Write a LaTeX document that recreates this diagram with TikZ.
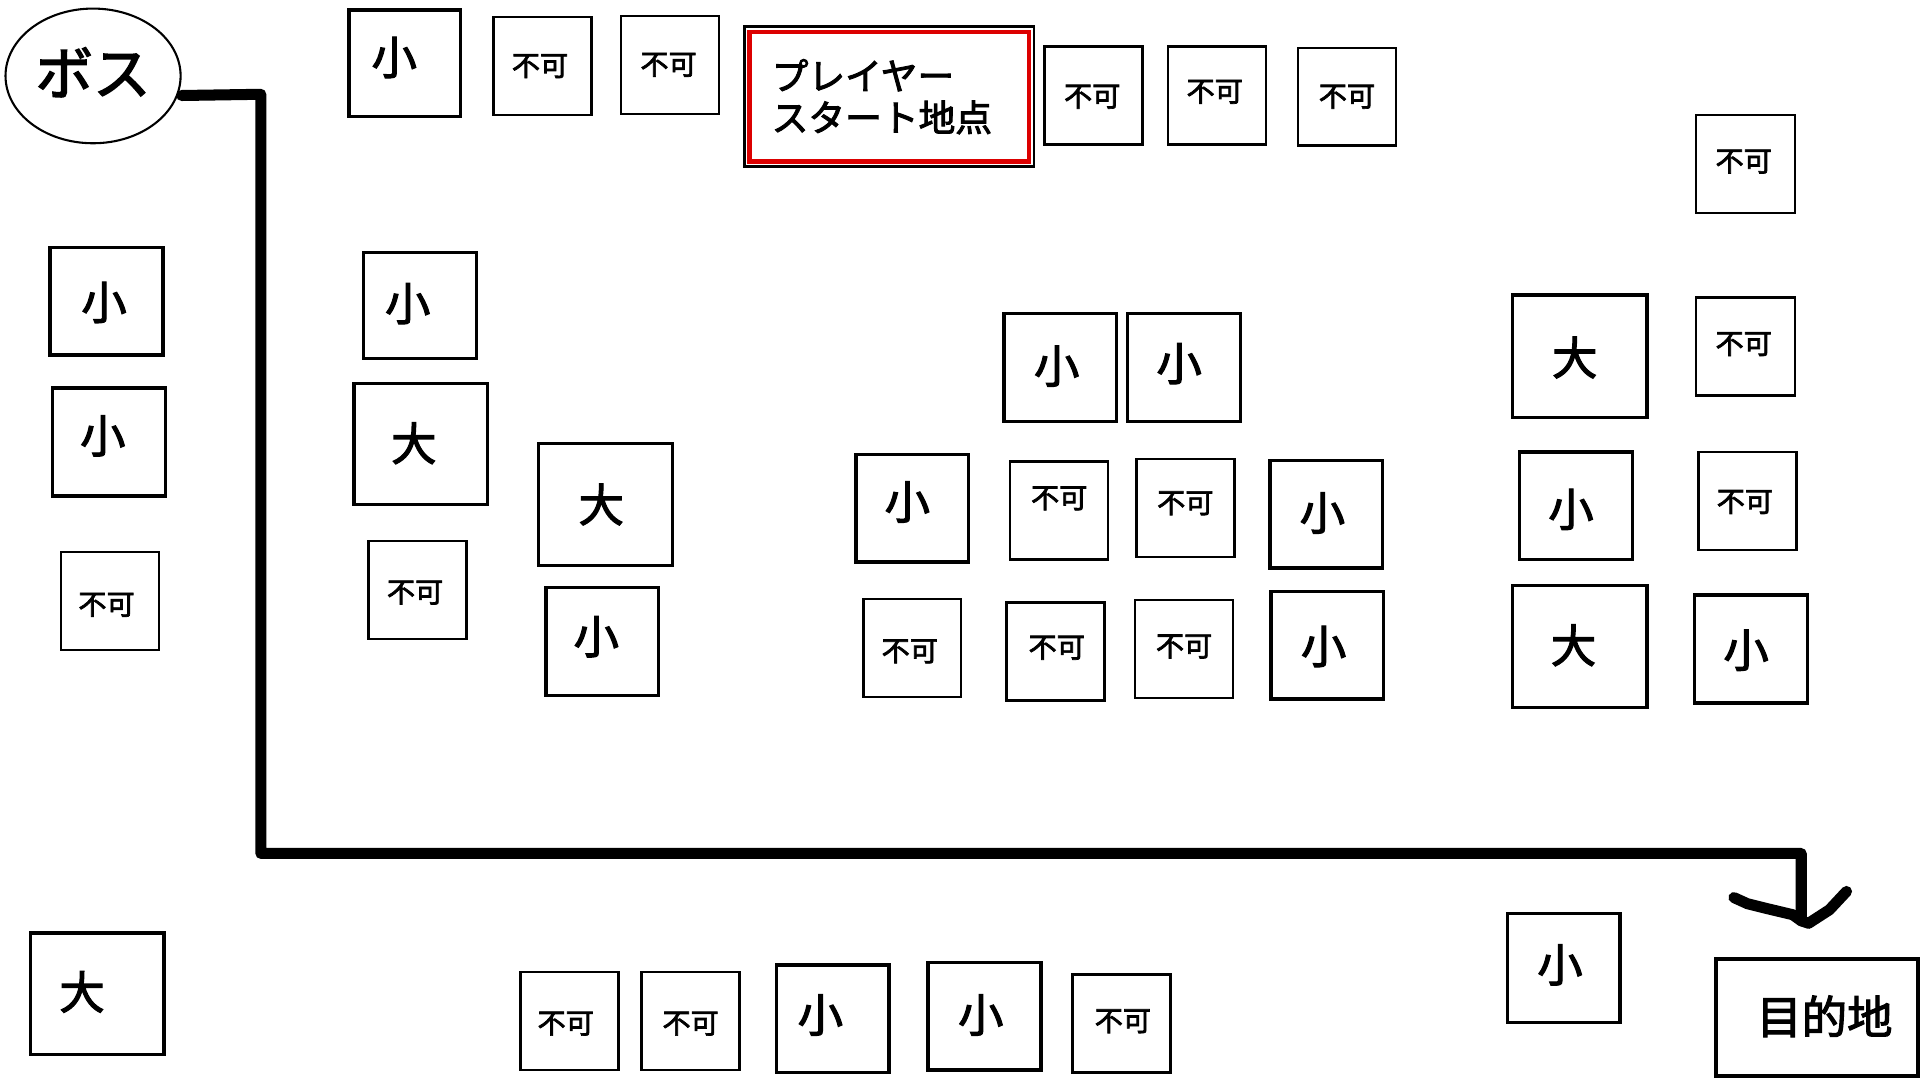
\documentclass[tikz,border=0pt]{standalone}
\usepackage{fontspec}
\newfontfamily\jp{Noto Sans CJK JP}[FakeBold=2.5]
\usetikzlibrary{shapes.geometric}
\definecolor{startred}{RGB}{220,0,0}
\tikzset{
  boxbase/.style={draw=black, rectangle, inner sep=0pt, fill=white},
  sbox/.style={boxbase, line width=2.8pt},
  lbox/.style={boxbase, line width=2.8pt},
  nbox/.style={boxbase, line width=2.0pt},
  gbox/.style={boxbase, line width=3.3pt},
  txtsbox/.style={font=\jp\fontsize{37}{40}\selectfont, inner sep=0pt},
  txtlbox/.style={font=\jp\fontsize{37}{40}\selectfont, inner sep=0pt},
  txtnbox/.style={font=\jp\fontsize{23}{26}\selectfont, inner sep=0pt},
  txtgbox/.style={font=\jp\fontsize{37}{40}\selectfont, inner sep=0pt},
  route/.style={line width=9pt, line cap=round, line join=round, black},
}
\newcommand\bx[9]{%
  \node[#1, minimum width={(#5-#3)*1pt}, minimum height={(#6-#4)*1pt}] (#2) at ({(#3+#5)/2},{(#4+#6)/2}) {};
  \node[txt#1] (#2t) at (#7,#8) {#9};}
\begin{document}
\begin{tikzpicture}[x=1pt,y=-1pt]
\useasboundingbox (0,0) rectangle (1568,882);
\fill[white] (0,0) rectangle (1568,882);

% boss
\node[draw, ellipse, line width=1.7pt, minimum width=143pt, minimum height=110pt, inner sep=0pt] (boss) at (76,62) {};
\node[font=\jp\fontsize{47}{50}\selectfont, inner sep=0pt] (bosst) at (76,59) {ボス};

% start
\node[draw=startred, line width=3.4pt, rectangle, inner sep=0pt, minimum width=228pt, minimum height=106pt] (start) at (726.1,78.85) {};
\draw[black, line width=2.4pt] ([shift={(-2.6pt,2.6pt)}]start.north west) rectangle ([shift={(2.6pt,-2.6pt)}]start.south east);
\node[font=\jp\fontsize{30}{34}\selectfont, align=left, inner sep=0pt, anchor=west] (startt) at (630,79) {プレイヤー\\スタート地点};

% top row
\bx{sbox}{t1}{285}{8}{376}{95}{322}{47}{小}
\bx{nbox}{t2}{403}{14}{483}{94}{441}{54}{不可}
\bx{nbox}{t3}{507}{13}{587}{93}{546}{53}{不可}
\bx{nbox}{t4}{853}{38}{933}{118}{892}{79}{不可}
\bx{nbox}{t5}{954}{38}{1034}{118}{992}{75}{不可}
\bx{nbox}{t6}{1060}{39}{1140}{119}{1100}{79}{不可}
\bx{nbox}{t7}{1385}{94}{1466}{174}{1424}{132}{不可}

% left column
\bx{sbox}{l1}{41}{202}{133}{290}{85}{247}{小}
\bx{sbox}{l2}{43}{317}{135}{405}{84}{356}{小}
\bx{nbox}{l3}{50}{451}{130}{531}{87}{494}{不可}
\bx{lbox}{l4}{25}{762}{134}{861}{67}{810}{大}

% second column
\bx{sbox}{c1}{297}{206}{389}{293}{333}{248}{小}
\bx{lbox}{c2}{289}{313}{398}{412}{338}{362}{大}
\bx{nbox}{c3}{301}{442}{381}{522}{339}{484}{不可}
\bx{lbox}{c4}{440}{362}{549}{462}{491}{412}{大}
\bx{sbox}{c5}{446}{480}{538}{568}{487}{520}{小}

% middle cluster
\bx{sbox}{m1}{820}{256}{912}{344}{863}{299}{小}
\bx{sbox}{m2}{921}{256}{1013}{344}{963}{297}{小}
\bx{sbox}{m3}{699}{371}{791}{459}{741}{410}{小}
\bx{nbox}{m4}{825}{377}{905}{457}{865}{407}{不可}
\bx{nbox}{m5}{928}{375}{1008}{455}{968}{411}{不可}
\bx{sbox}{m6}{1037}{376}{1129}{464}{1080}{419}{小}
\bx{nbox}{m7}{705}{489}{785}{569}{743}{532}{不可}
\bx{nbox}{m8}{822}{492}{902}{572}{863}{529}{不可}
\bx{nbox}{m9}{927}{490}{1007}{570}{967}{528}{不可}
\bx{sbox}{m10}{1038}{483}{1130}{571}{1081}{528}{小}

% right cluster
\bx{lbox}{r1}{1235}{241}{1345}{341}{1286}{292}{大}
\bx{nbox}{r2}{1385}{243}{1466}{323}{1424}{281}{不可}
\bx{sbox}{r3}{1241}{369}{1333}{457}{1283}{416}{小}
\bx{nbox}{r4}{1387}{369}{1467}{449}{1425}{410}{不可}
\bx{lbox}{r5}{1235}{478}{1345}{578}{1285}{527}{大}
\bx{sbox}{r6}{1384}{486}{1476}{574}{1426}{531}{小}

% bottom row
\bx{nbox}{b1}{425}{794}{505}{874}{462}{836}{不可}
\bx{nbox}{b2}{524}{794}{604}{874}{564}{836}{不可}
\bx{sbox}{b3}{634}{788}{726}{876}{670}{829}{小}
\bx{sbox}{b4}{758}{786}{850}{874}{801}{829}{小}
\bx{nbox}{b5}{876}{796}{956}{876}{917}{834}{不可}
\bx{sbox}{b6}{1231}{746}{1323}{835}{1274}{788}{小}
\bx{gbox}{goal}{1401}{783}{1566}{879}{1490}{830}{目的地}

% route
\coordinate (tip) at (1471,752);
\draw[route] ([yshift=-16pt]boss.east) -- (213,77) -- (213,697) -- (1471,697) -- (tip);
\draw[route] (1416,733) -- (1427,738) -- (1443,742) -- (1464,747) -- (tip) -- (1477,754) -- (1494,743) -- (1508,728);
\end{tikzpicture}
\end{document}
